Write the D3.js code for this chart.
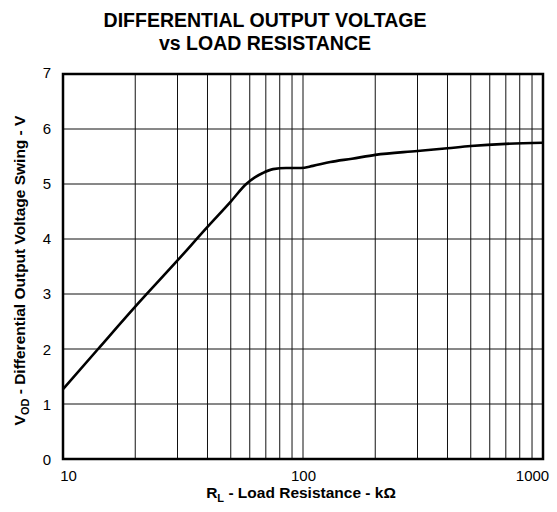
<!DOCTYPE html>
<html>
<head>
<meta charset="utf-8">
<script src="https://cdn.jsdelivr.net/npm/d3@7"></script>
<style>
  body { margin: 0; background: #fff; }
  svg { display: block; font-family: "Liberation Sans", Arial, sans-serif; }
</style>
</head>
<body>
<div id="chart"></div>
<script>
// Load resistance (kOhm) and differential output voltage swing (V)
const loadRes = [10, 14, 20, 30, 40, 50, 58, 63, 68, 75, 85, 98, 110, 130, 160, 200, 300, 400, 500, 700, 1000];
const vodSwing = [1.27, 2.0, 2.77, 3.61, 4.22, 4.68, 5.0, 5.12, 5.2, 5.27, 5.29, 5.29, 5.33, 5.40, 5.46, 5.53, 5.60, 5.65, 5.69, 5.73, 5.75];

const xTickLabels = [10, 100, 1000];
const yTicks = [0, 1, 2, 3, 4, 5, 6, 7];
const xGrid = [20, 30, 40, 50, 60, 70, 80, 90, 100, 200, 300, 400, 500, 600, 700, 800, 900];

const width = 557, height = 512;
const margin = { top: 74, right: 14, bottom: 53, left: 63 };
const innerW = width - margin.left - margin.right;
const innerH = height - margin.top - margin.bottom;

const svg = d3.select('#chart')
  .append('svg')
  .attr('width', width)
  .attr('height', height);

const g = svg.append('g')
  .attr('transform', `translate(${margin.left},${margin.top})`);

const x = d3.scaleLog().domain([10, 1000]).range([0, innerW]);
const y = d3.scaleLinear().domain([0, 7]).range([innerH, 0]);

// Grid
g.selectAll('.vgrid')
  .data(xGrid)
  .enter()
  .append('line')
  .attr('x1', d => x(d)).attr('x2', d => x(d))
  .attr('y1', 0).attr('y2', innerH)
  .attr('stroke', '#111')
  .attr('stroke-width', 1);

g.selectAll('.hgrid')
  .data(yTicks.slice(1, -1))
  .enter()
  .append('line')
  .attr('x1', 0).attr('x2', innerW)
  .attr('y1', d => y(d)).attr('y2', d => y(d))
  .attr('stroke', '#111')
  .attr('stroke-width', 1);

// Curve
const data = loadRes.map((r, i) => ({ r, v: vodSwing[i] }));
const line = d3.line()
  .x(d => x(d.r))
  .y(d => y(d.v))
  .curve(d3.curveMonotoneX);

g.append('path')
  .datum(data)
  .attr('fill', 'none')
  .attr('stroke', '#000')
  .attr('stroke-width', 2.6)
  .attr('d', line);

// Frame
g.append('rect')
  .attr('width', innerW)
  .attr('height', innerH)
  .attr('fill', 'none')
  .attr('stroke', '#000')
  .attr('stroke-width', 2.5);

// Y tick labels
g.append('g')
  .call(d3.axisLeft(y).tickValues(yTicks).tickFormat(d3.format('d')).tickSize(0).tickPadding(12))
  .call(a => a.select('.domain').remove())
  .selectAll('text')
  .attr('font-size', 15)
  .attr('fill', '#000')
  .attr('dy', d => `${0.32 + (3.5 - d) * 0.02}em`);

// X tick labels
g.append('g')
  .attr('transform', `translate(0,${innerH})`)
  .call(d3.axisBottom(x).tickValues(xTickLabels).tickFormat(d3.format('d')).tickSize(0).tickPadding(11))
  .call(a => a.select('.domain').remove())
  .selectAll('text')
  .attr('font-size', 15)
  .attr('fill', '#000')
  .attr('dx', d => d === 10 ? 5 : d === 1000 ? -11 : 0);

// Title
const title = svg.append('text')
  .attr('x', 265)
  .attr('text-anchor', 'middle')
  .attr('font-weight', 'bold')
  .attr('font-size', 19.5);
title.append('tspan').attr('x', 265).attr('y', 27).text('DIFFERENTIAL OUTPUT VOLTAGE');
title.append('tspan').attr('x', 265).attr('y', 49.5).text('vs LOAD RESISTANCE');

// X axis title
const xt = svg.append('text')
  .attr('x', 301)
  .attr('y', 498)
  .attr('text-anchor', 'middle')
  .attr('font-weight', 'bold')
  .attr('font-size', 15.5);
xt.append('tspan').text('R');
xt.append('tspan').attr('font-size', 11).attr('dy', 4).text('L');
xt.append('tspan').attr('dy', -4).text(' - Load Resistance - k\u03A9');

// Y axis title
const yt = svg.append('text')
  .attr('transform', `translate(25,${margin.top + innerH / 2 + 4}) rotate(-90)`)
  .attr('text-anchor', 'middle')
  .attr('font-weight', 'bold')
  .attr('font-size', 15.5);
yt.append('tspan').text('V');
yt.append('tspan').attr('font-size', 11).attr('dy', 4).text('OD');
yt.append('tspan').attr('dy', -4).text(' - Differential Output Voltage Swing - V');
</script>
</body>
</html>
